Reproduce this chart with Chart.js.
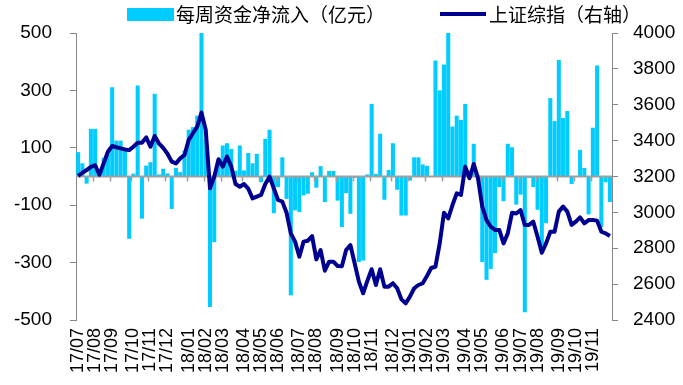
<!DOCTYPE html>
<html>
<head>
<meta charset="utf-8">
<script src="https://cdn.jsdelivr.net/npm/chart.js"></script>
<style>
  html, body { margin: 0; padding: 0; background: #fff; }
  #wrap { position: relative; width: 683px; height: 385px; }
  #legend { position: absolute; top: 0; left: 0; width: 683px; height: 30px;
            font-family: "Noto Sans CJK SC", sans-serif; font-size: 19px; color: #000; }
  #legend .key { position: absolute; }
  #legend .txt { position: absolute; top: 2px; line-height: 24px; white-space: nowrap; }
</style>
</head>
<body>
<div id="wrap">
  <canvas id="flowChart" width="683" height="385"></canvas>
  <div id="legend">
    <div class="key" style="left:127px; top:8px; width:47px; height:13px; background:#00ccff;"></div>
    <div class="txt" style="left:176px;">每周资金净流入（亿元）</div>
    <div class="key" style="left:440px; top:12px; width:46px; height:4px; background:#000090;"></div>
    <div class="txt" style="left:489px;">上证综指（右轴）</div>
  </div>
</div>
<script>
// weekly net inflow, 100m yuan (left axis)
const flows = [
  85, 46, -25, 166, 166, 20, 65, 80, 311, 125,
  125, 96, -217, 10, 317, -147, 38, 50, 288, 7,
  27, 11, -113, 30, 15, 90, 163, 172, 212, 510,
  130, -455, -229, 40, 108, 116, 96, 20, 108, 21,
  82, 46, 79, -20, 131, 163, -128, -37, 67, -78,
  -414, -118, -124, -66, -60, 15, -39, 36, -89, 19,
  19, -84, -176, -58, -130, -5, -298, -293, 7, 253,
  9, 149, -81, 23, 116, -46, -136, -136, -14, 67,
  67, 42, 37, 2, 404, 300, 390, 510, 174, 212,
  197, 253, 21, 114, 5, -298, -360, -322, -267, -37,
  -86, 114, 102, -98, -63, -473, -5, -37, -116, -258,
  -163, 273, 193, 406, 204, 228, -26, 0, 93, 30,
  -132, 170, 387, -176, -20, -89
];

// SSE composite index weekly close (right axis)
const sse = [
  3203, 3221, 3236, 3254, 3263, 3210, 3273, 3338, 3370, 3363,
  3357, 3351, 3347, 3366, 3388, 3388, 3418, 3366, 3426, 3384,
  3360, 3327, 3283, 3273, 3301, 3320, 3404, 3441, 3478, 3556,
  3459, 3134, 3199, 3296, 3255, 3311, 3255, 3158, 3143, 3158,
  3132, 3078, 3088, 3097, 3158, 3199, 3134, 3069, 3060, 2998,
  2883, 2837, 2753, 2837, 2842, 2868, 2738, 2790, 2675, 2725,
  2725, 2701, 2700, 2790, 2818, 2716, 2614, 2549, 2619, 2683,
  2595, 2683, 2586, 2586, 2605, 2577, 2515, 2493, 2530, 2577,
  2595, 2605, 2645, 2690, 2697, 2827, 2998, 2967, 3041, 3106,
  3097, 3255, 3190, 3270, 3190, 3032, 2957, 2920, 2902, 2902,
  2827, 2883, 2998, 2994, 3013, 2930, 2930, 2948, 2864, 2775,
  2827, 2892, 2892, 3004, 3032, 3004, 2930, 2948, 2972, 2939,
  2957, 2957, 2954, 2892, 2883, 2868
];

const firstWeek = '2017-07-07';

// weekly categories (Fridays)
const weeks = [];
const t0 = Date.parse(firstWeek + 'T00:00:00Z');
for (let i = 0; i < flows.length; i++) {
  weeks.push(new Date(t0 + i * 7 * 86400000).toISOString().slice(0, 10));
}

// index of the first week of each month -> tick label
const monthTicks = {};
weeks.forEach((w, i) => {
  if (i === 0 || w.slice(5, 7) !== weeks[i - 1].slice(5, 7)) {
    monthTicks[i] = w.slice(2, 4) + '/' + w.slice(5, 7);
  }
});

const axisGray = '#868686';

const zeroAxis = {
  id: 'zeroAxis',
  afterDatasetDraw(chart, args) {
    if (args.index !== 0) return;
    const { ctx, chartArea, scales } = chart;
    const y0 = scales.y.getPixelForValue(0);
    ctx.save();
    ctx.strokeStyle = '#a0a0a0';
    ctx.lineWidth = 2;
    ctx.beginPath();
    ctx.moveTo(chartArea.left, y0);
    ctx.lineTo(chartArea.right, y0);
    ctx.stroke();
    ctx.lineWidth = 1.5;
    ctx.beginPath();
    Object.keys(monthTicks).forEach(k => {
      if (+k === 0) return;
      const x = Math.round(scales.x.getPixelForValue(+k)) - 1.5;
      ctx.moveTo(x, y0);
      ctx.lineTo(x, y0 + 5);
    });
    ctx.stroke();
    ctx.restore();
  }
};

new Chart(document.getElementById('flowChart'), {
  data: {
    labels: weeks,
    datasets: [
      {
        type: 'bar',
        label: '每周资金净流入（亿元）',
        data: flows,
        backgroundColor: '#00ccff',
        barPercentage: 0.95,
        categoryPercentage: 1,
        yAxisID: 'y',
        order: 1
      },
      {
        type: 'line',
        label: '上证综指（右轴）',
        data: sse,
        borderColor: '#000090',
        borderWidth: 4,
        pointRadius: 0,
        tension: 0,
        borderJoinStyle: 'round',
        yAxisID: 'y1',
        order: 0
      }
    ]
  },
  options: {
    responsive: false,
    animation: false,
    layout: { padding: { top: 33, left: 0, right: 0, bottom: 0 } },
    plugins: {
      legend: { display: false },
      tooltip: { enabled: false }
    },
    scales: {
      x: {
        grid: { display: false, drawTicks: false },
        border: { display: false },
        ticks: {
          autoSkip: false,
          minRotation: 90,
          maxRotation: 90,
          padding: 8,
          color: '#000',
          font: { family: 'Liberation Sans', size: 18 },
          callback: (v, i) => monthTicks[i] || ''
        },
        afterFit(s) { s.height = 65; }
      },
      y: {
        position: 'left',
        min: -500,
        max: 500,
        ticks: {
          stepSize: 200,
          padding: 18,
          color: '#000',
          font: { family: 'Liberation Sans', size: 19 },
          callback: v => String(v)
        },
        grid: { drawOnChartArea: false, tickLength: 6, color: axisGray, tickColor: axisGray },
        border: { color: axisGray },
        afterFit(s) { s.width = 76; }
      },
      y1: {
        position: 'right',
        min: 2400,
        max: 4000,
        ticks: {
          stepSize: 200,
          padding: 15,
          color: '#000',
          font: { family: 'Liberation Sans', size: 19 },
          callback: v => String(v)
        },
        grid: { drawOnChartArea: false, tickLength: 6, color: axisGray, tickColor: axisGray },
        border: { color: axisGray },
        afterFit(s) { s.width = 71; }
      }
    }
  },
  plugins: [zeroAxis]
});
</script>
</body>
</html>
